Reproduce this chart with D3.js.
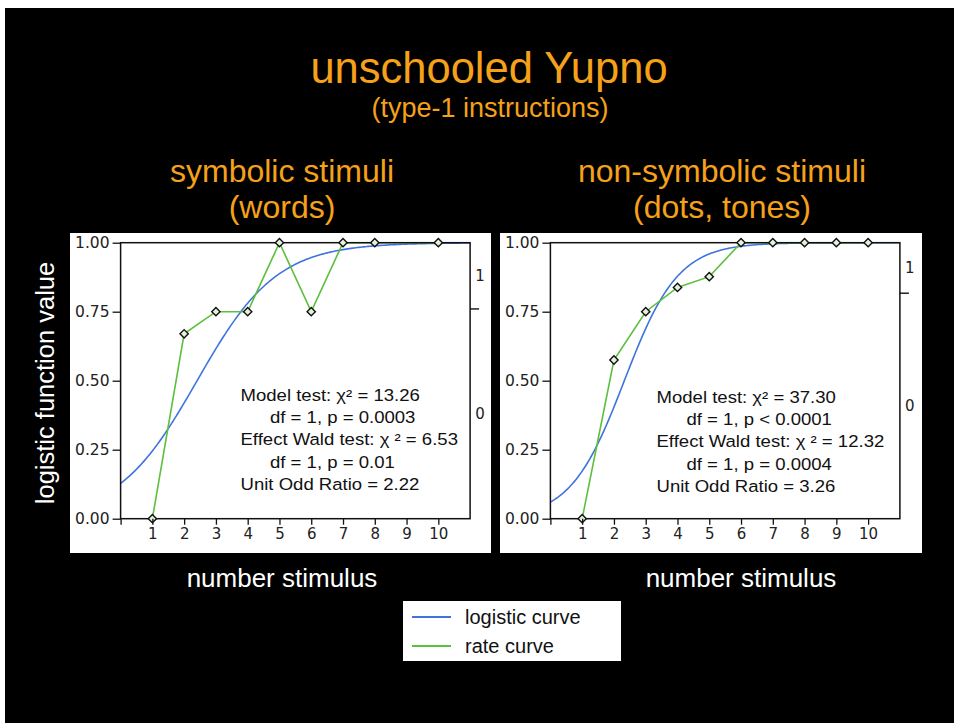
<!DOCTYPE html>
<html>
<head>
<meta charset="utf-8">
<script src="https://cdn.jsdelivr.net/npm/d3@7/dist/d3.min.js"></script>
<style>
  html, body { margin: 0; padding: 0; background: #fff; }
  svg { display: block; }
</style>
</head>
<body>
<script>
// ---- data ----
const panelTitles = ["symbolic stimuli", "non-symbolic stimuli"];
const panelSubtitles = ["(words)", "(dots, tones)"];

const stimulus = [1, 2, 3, 4, 5, 6, 7, 8, 9, 10];
// observed proportion per stimulus (null = no observation)
const rateSymbolic    = [0, 0.67, 0.75, 0.75, 1.0, 0.75, 1.0, 1.0, null, 1.0];
const rateNonSymbolic = [0, 0.575, 0.75, 0.838, 0.877, 1.0, 1.0, 1.0, 1.0, 1.0];

// fitted logistic model: intercept and unit odds ratio
const logisticIntercept = [-1.92, -2.75];
const unitOddsRatio = [2.22, 3.26];

// split of the response axis (category 0 below, 1 above)
const responseSplit = [0.76, 0.817];

const yTicks = [0, 0.25, 0.5, 0.75, 1];
const xTicks = [0, 1, 2, 3, 4, 5, 6, 7, 8, 9, 10];

const statLines = [
  ["Model test: \u03C7\u00B2 = 13.26", "df = 1, p = 0.0003", "Effect Wald test: \u03C7 \u00B2 = 6.53", "df = 1, p = 0.01", "Unit Odd Ratio = 2.22"],
  ["Model test: \u03C7\u00B2 = 37.30", "df = 1, p < 0.0001", "Effect Wald test: \u03C7 \u00B2 = 12.32", "df = 1, p = 0.0004", "Unit Odd Ratio = 3.26"]
];

const legendLabels = ["logistic curve", "rate curve"];

// ---- drawing ----
const W = 954, H = 723;
const orange = "#f5a11a";
const blue = "#3f74dc";
const green = "#5cbf3d";

const svg = d3.select("body").append("svg").attr("width", W).attr("height", H);

// black slide area
svg.append("rect").attr("x", 5).attr("y", 8).attr("width", W - 5).attr("height", H - 8).attr("fill", "#000");

const sans = "'Liberation Sans', Arial, Helvetica, sans-serif";
const tickFont = "'DejaVu Sans', Verdana, sans-serif";

svg.append("text").attr("x", 489).attr("y", 83).attr("text-anchor", "middle")
  .attr("font-family", sans).attr("font-size", 43.5).attr("fill", orange).text("unschooled Yupno");
svg.append("text").attr("x", 490).attr("y", 117).attr("text-anchor", "middle")
  .attr("font-family", sans).attr("font-size", 27).attr("fill", orange).text("(type-1 instructions)");

// y label
svg.append("text")
  .attr("transform", "translate(54,383) rotate(-90)")
  .attr("text-anchor", "middle").attr("font-family", sans).attr("font-size", 25.5)
  .attr("fill", "#fff").text("logistic function value");

const panels = [
  { box: [70, 233, 421, 320], x0: 120.6, center: 282, stats: [240.5, 270], statY: 400.7, rates: rateSymbolic, xlab: 282 },
  { box: [500, 233, 422, 320], x0: 550.4, center: 722, stats: [656.5, 686.5], statY: 402.7, rates: rateNonSymbolic, xlab: 741 }
];

const yTop = 242.7, yBottom = 518.7, plotW = 349.5;
const statStretch = 1.125;

panels.forEach((p, i) => {
  svg.append("text").attr("x", p.center).attr("y", 182).attr("text-anchor", "middle")
    .attr("font-family", sans).attr("font-size", 32).attr("fill", orange).text(panelTitles[i]);
  svg.append("text").attr("x", p.center).attr("y", 218).attr("text-anchor", "middle")
    .attr("font-family", sans).attr("font-size", 32).attr("fill", orange).text(panelSubtitles[i]);

  svg.append("rect").attr("x", p.box[0]).attr("y", p.box[1]).attr("width", p.box[2]).attr("height", p.box[3]).attr("fill", "#fff");

  const x = d3.scaleLinear().domain([0, 11]).range([p.x0, p.x0 + plotW]);
  const y = d3.scaleLinear().domain([0, 1]).range([yBottom, yTop]);

  const g = svg.append("g");

  // clip for curves
  const clipId = "clip" + i;
  svg.append("clipPath").attr("id", clipId).append("rect")
    .attr("x", x(0)).attr("y", y(1) - 1).attr("width", x(11) - x(0)).attr("height", y(0) - y(1) + 1);

  // logistic curve
  const a = logisticIntercept[i], b = Math.log(unitOddsRatio[i]);
  const xs = d3.range(0, 11.01, 0.05);
  const fit = xs.map(v => [v, 1 / (1 + Math.exp(-(a + b * v)))]);
  g.append("path").datum(fit)
    .attr("clip-path", `url(#${clipId})`)
    .attr("fill", "none").attr("stroke", blue).attr("stroke-width", 1.6)
    .attr("d", d3.line().x(d => x(d[0])).y(d => y(d[1])));

  // rate curve
  const pts = stimulus.map((s, k) => ({ s, v: p.rates[k] })).filter(d => d.v !== null);
  g.append("path").datum(pts)
    .attr("fill", "none").attr("stroke", green).attr("stroke-width", 1.6)
    .attr("d", d3.line().x(d => x(d.s)).y(d => y(d.v)));

  // frame
  g.append("rect").attr("x", x(0)).attr("y", y(1)).attr("width", x(11) - x(0)).attr("height", y(0) - y(1))
    .attr("fill", "none").attr("stroke", "#111").attr("stroke-width", 1.5);

  // diamonds
  g.selectAll("path.pt").data(pts).enter().append("path")
    .attr("class", "pt")
    .attr("d", d3.symbol(d3.symbolDiamond2, 44)())
    .attr("transform", d => `translate(${x(d.s)},${y(d.v)})`)
    .attr("fill", "#e4f2dc").attr("stroke", "#111").attr("stroke-width", 1.4);

  // axes
  const yAxis = d3.axisLeft(y).tickValues(yTicks).tickFormat(d3.format(".2f")).tickSize(8).tickPadding(3);
  const ya = g.append("g").attr("transform", `translate(${x(0)},0)`).call(yAxis);
  ya.select(".domain").remove();
  ya.selectAll("line").attr("stroke", "#111").attr("stroke-width", 1.3);
  ya.selectAll("text").attr("font-family", tickFont).attr("font-size", 15.5).attr("fill", "#222");

  const xAxis = d3.axisBottom(x).tickValues(xTicks).tickFormat(d => d === 0 ? "" : d).tickSize(6).tickPadding(4);
  const xa = g.append("g").attr("transform", `translate(0,${y(0)})`).call(xAxis);
  xa.select(".domain").remove();
  xa.selectAll("line").attr("stroke", "#111").attr("stroke-width", 1.3);
  xa.selectAll("text").attr("font-family", tickFont).attr("font-size", 15).attr("fill", "#222");

  // response axis on the right
  const split = responseSplit[i];
  const ra = g.append("g").attr("transform", `translate(${x(11)},0)`);
  ra.append("line").attr("x1", 0).attr("x2", 9).attr("y1", y(split)).attr("y2", y(split))
    .attr("stroke", "#111").attr("stroke-width", 1.4);
  ra.selectAll("text").data([[1, (1 + split) / 2], [0, split / 2]]).enter().append("text")
    .attr("x", 10).attr("y", d => y(d[1])).attr("dy", "0.35em").attr("text-anchor", "middle")
    .attr("font-family", tickFont).attr("font-size", 15).attr("fill", "#222").text(d => d[0]);

  // stats text (slightly widened sans)
  const st = g.append("g").attr("transform", `translate(${p.stats[0]},${p.statY}) scale(${statStretch},1)`)
    .append("text").attr("font-family", sans).attr("font-size", 16.5).attr("fill", "#111");
  statLines[i].forEach((line, k) => {
    st.append("tspan").attr("x", k % 2 === 1 ? (p.stats[1] - p.stats[0]) / statStretch : 0)
      .attr("y", k * 22.4).text(line);
  });

  svg.append("text").attr("x", p.xlab).attr("y", 587).attr("text-anchor", "middle")
    .attr("font-family", sans).attr("font-size", 26).attr("fill", "#fff").text("number stimulus");
});

// legend
const lg = svg.append("g");
lg.append("rect").attr("x", 403).attr("y", 601).attr("width", 218).attr("height", 60).attr("fill", "#fff");
[blue, green].forEach((c, k) => {
  const yy = 617 + k * 29;
  lg.append("line").attr("x1", 412).attr("x2", 451).attr("y1", yy).attr("y2", yy)
    .attr("stroke", c).attr("stroke-width", 2);
  lg.append("text").attr("x", 465).attr("y", yy).attr("dy", "0.35em")
    .attr("font-family", sans).attr("font-size", 20).attr("fill", "#111").text(legendLabels[k]);
});
</script>
</body>
</html>
